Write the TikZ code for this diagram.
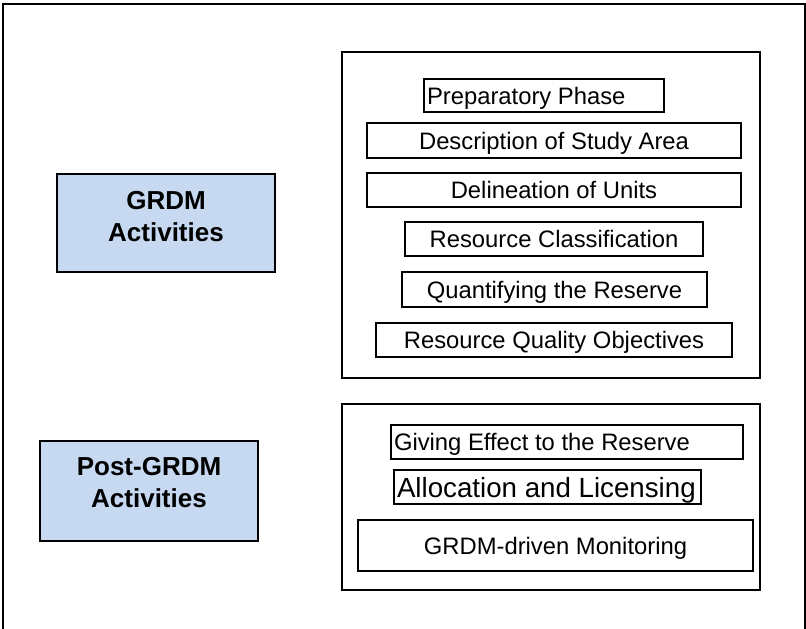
\documentclass[tikz,border=0pt]{standalone}
\usepackage{fontspec}
\setmainfont{Liberation Sans}
\usetikzlibrary{calc}
\definecolor{bluefill}{RGB}{198,217,241}
\tikzset{
  frameline/.style={draw=black,line width=2pt},
  container/.style={draw=black,line width=1.4pt,inner sep=0pt,fill=none},
  ibox/.style={draw=black,line width=1.1pt,inner sep=0pt,text height=17pt,text depth=0pt,font=\fontsize{23.8}{28}\selectfont},
  lbox/.style={ibox,inner xsep=3pt},
  bluebox/.style={draw=black,line width=1.4pt,fill=bluefill,inner sep=0pt},
  btext/.style={anchor=base,inner sep=0pt,font=\fontsize{26}{30}\selectfont\bfseries}
}
\begin{document}
\begin{tikzpicture}[x=1pt,y=-1pt]
\useasboundingbox (0,0) rectangle (806,629);
\clip (0,0) rectangle (806,629);
% outer frame (bottom edge outside the picture)
\coordinate (fbl) at (2.5,640);
\coordinate (ftl) at (2.5,3.5);
\coordinate (ftr) at (804.5,3.5);
\coordinate (fbr) at (804.5,640);
\draw[frameline] (fbl) -- (ftl) -- (ftr) -- (fbr);
% containers
\node[container,minimum width=418pt,minimum height=326pt] (c1) at (551,215) {};
\node[container,minimum width=418pt,minimum height=186pt] (c2) at (551,497) {};
% left boxes
\node[bluebox,minimum width=218pt,minimum height=98pt] (grdm) at (166,223) {};
\node[btext] (grdmA) at ($(grdm.north)+(0,36)$) {GRDM};
\node[btext] (grdmB) at ($(grdm.north)+(0,68)$) {Activities};
\node[bluebox,minimum width=218pt,minimum height=100pt] (post) at (149,491) {};
\node[btext] (postA) at ($(post.north)+(0,35)$) {Post-GRDM};
\node[btext] (postB) at ($(post.north)+(0,67)$) {Activities};
% GRDM activity boxes
\node[lbox,minimum height=33pt] (prep) at (544,95.5) {\makebox[234pt][l]{Preparatory Phase}};
\node[ibox,minimum width=374pt,minimum height=35pt] (desc) at (554,140.5) {Description of Study Area};
\node[ibox,minimum width=374pt,minimum height=34pt] (deli) at (554,190) {Delineation of Units};
\node[ibox,minimum width=298pt,minimum height=34pt] (rcls) at (554,239) {Resource Classification};
\node[ibox,minimum width=305pt,minimum height=35pt] (quant) at (554.5,289.5) {Quantifying the Reserve};
\node[ibox,minimum width=356pt,minimum height=34pt] (rqo) at (554,340) {Resource Quality Objectives};
% post-GRDM boxes
\node[lbox,minimum height=34pt] (give) at (567,442) {\makebox[346pt][l]{Giving Effect to the Reserve}};
\node[lbox,minimum height=34pt,text height=20pt,font=\fontsize{27.7}{32}\selectfont] (alloc) at (547.5,487) {\makebox[301pt][l]{Allocation and Licensing}};
\node[ibox,minimum width=395pt,minimum height=51pt] (mon) at (555.5,545.5) {GRDM-driven Monitoring};
\end{tikzpicture}
\end{document}
